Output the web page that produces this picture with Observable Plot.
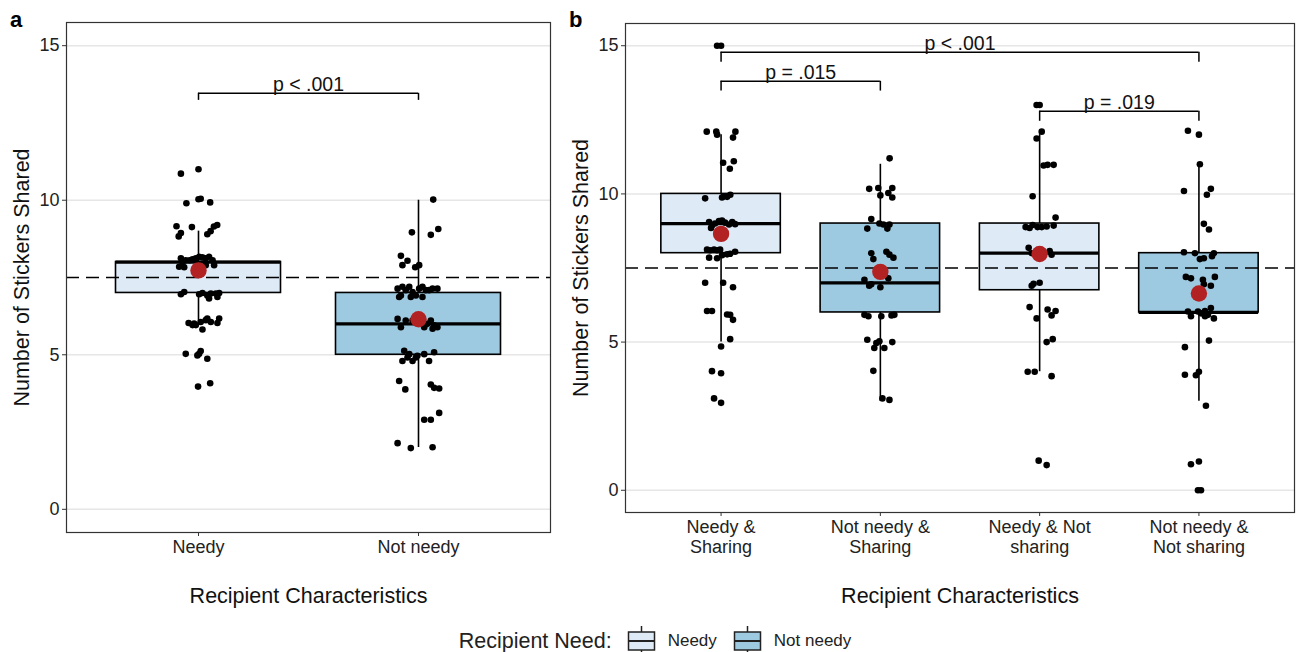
<!DOCTYPE html>
<html>
<head>
<meta charset="utf-8">
<script src="https://cdn.jsdelivr.net/npm/d3@7"></script>
<script src="https://cdn.jsdelivr.net/npm/@observablehq/plot@0.6"></script>
<style>
  html, body { margin: 0; padding: 0; background: #fff; }
  body { width: 1302px; height: 652px; position: relative; overflow: hidden;
         font-family: "Liberation Sans", Arial, Helvetica, sans-serif; color: #222; }
  .panel { position: absolute; top: 0; z-index: 1; }
  .tag { position: absolute; top: 7px; font-size: 22px; font-weight: bold; color: #000; z-index: 5; }
  #legend { position: absolute; left: 0; top: 626px; width: 1302px; height: 30px; z-index: 5;
            display: flex; justify-content: center; align-items: center; color: #222; padding-left: 8px; box-sizing: border-box; }
  #legend .ltitle { font-size: 21.5px; margin-right: 15px; }
  #legend .llabel { font-size: 17px; margin-left: 12px; }
  #legend .llabel.first { margin-right: 16px; }
</style>
</head>
<body>
<div id="panelA" class="panel" style="left:0px"></div>
<div id="panelB" class="panel" style="left:560px"></div>
<div class="tag" style="left:10px">a</div>
<div class="tag" style="left:569px">b</div>
<div id="legend"></div>
<script>
// ---------------- DATA ----------------
const needLevels = ["Needy", "Not needy"];
const needColors = ["#deebf7", "#9ecae1"];

// Panel a
const catsA = ["Needy", "Not needy"];
const labelsA = ["Needy", "Not needy"];
const needA = ["Needy", "Not needy"];
const q1A = [7, 5];
const medA = [8, 6];
const q3A = [8, 7];
const loA = [6, 2];
const hiA = [9, 10];
const meanA = [7.73, 6.15];

// jittered observations [x-jitter (category units), value]
const ptsA_needy = [
  [0.00, 11.0], [-0.08, 10.86],
  [-0.055, 9.9], [0.0, 10.03], [0.01, 10.05], [0.053, 9.93],
  [-0.10, 9.16], [-0.08, 8.94], [-0.09, 8.83], [-0.03, 9.13], [0.04, 8.9], [0.055, 9.0], [0.07, 9.15], [0.085, 9.2],
  [-0.08, 8.12], [-0.073, 7.9], [-0.058, 8.06], [-0.04, 8.06], [-0.027, 8.09], [-0.012, 8.12], [0.003, 8.17],
  [0.018, 8.15], [0.033, 8.12], [0.048, 8.17], [0.064, 8.06], [0.071, 7.9], [-0.088, 7.85], [-0.065, 7.83], [0.033, 7.9],
  [-0.08, 6.96], [-0.065, 7.03], [0.003, 6.96], [0.018, 7.0], [0.04, 6.92], [0.056, 6.98], [0.079, 6.98], [0.094, 7.0],
  [0.048, 6.82], [0.086, 6.87],
  [-0.045, 6.03], [-0.02, 6.01], [-0.012, 5.96], [0.01, 6.06], [0.018, 5.82], [0.04, 6.17], [0.056, 6.06], [0.086, 6.03],
  [0.094, 6.17], [0.033, 6.12], [-0.027, 5.96],
  [-0.058, 5.03], [-0.005, 4.98], [0.01, 5.12], [0.04, 4.87], [0.003, 5.03],
  [-0.002, 3.97], [0.053, 4.08]
];
const ptsA_notNeedy = [
  [0.067, 10.02],
  [-0.03, 8.96], [0.056, 8.88], [0.09, 9.07],
  [-0.08, 8.2], [-0.05, 8.04], [-0.073, 7.9], [-0.015, 7.83], [0.003, 7.9],
  [-0.095, 7.14], [-0.088, 6.87], [-0.073, 7.2], [-0.058, 7.09], [-0.042, 7.2], [-0.027, 7.03], [-0.012, 6.92],
  [0.003, 7.14], [0.018, 7.2], [0.033, 7.09], [0.048, 7.09], [0.064, 7.14], [0.086, 7.14], [-0.08, 6.92], [-0.035, 6.87], [0.018, 6.87],
  [-0.095, 6.16], [-0.08, 5.89], [-0.058, 6.11], [-0.027, 6.11], [0.026, 5.89], [0.04, 6.0], [0.056, 6.11], [0.071, 5.95],
  [0.086, 5.89], [0.064, 5.84],
  [-0.065, 5.13], [-0.073, 4.8], [-0.042, 5.02], [-0.027, 4.8], [-0.005, 4.97], [0.026, 5.02], [0.048, 4.8], [0.071, 5.08],
  [-0.05, 4.91], [-0.012, 4.91],
  [-0.088, 4.15], [-0.06, 3.88], [0.056, 4.04], [0.071, 3.93], [0.094, 3.91],
  [0.026, 2.9], [0.056, 2.9], [0.094, 3.12],
  [-0.095, 2.14], [-0.035, 1.98], [0.064, 2.01]
];

const bracketA_from = [1];
const bracketA_to = [2];
const bracketA_top = [13.46];
const bracketA_bottom = [13.23];
const bracketA_label = ["p < .001"];

// Panel b
const catsB = ["Needy & Sharing", "Not needy & Sharing", "Needy & Not sharing", "Not needy & Not sharing"];
const labelsB = ["Needy &\nSharing", "Not needy &\nSharing", "Needy & Not\nsharing", "Not needy &\nNot sharing"];
const needB = ["Needy", "Not needy", "Needy", "Not needy"];
const q1B = [8, 6, 6.75, 6];
const medB = [9, 7, 8, 6];
const q3B = [10, 9, 9, 8];
const loB = [5, 3, 4, 3];
const hiB = [12, 11, 12, 11];
const meanB = [8.65, 7.37, 7.97, 6.64];

const ptsB_needySharing = [
  [-0.025, 15.0], [0, 15.0],
  [-0.09, 12.1], [-0.03, 12.1], [-0.025, 12.0], [0.09, 12.1], [0.075, 11.9],
  [0.013, 11.05], [0.08, 11.1], [0.055, 10.85],
  [-0.1, 9.85], [0.017, 9.92], [0.038, 9.9], [0.058, 9.97], [0.006, 9.88],
  [-0.075, 9.05], [-0.057, 8.93], [-0.038, 9.0], [-0.013, 9.08], [0.006, 9.1], [0.025, 9.03], [0.05, 8.97],
  [0.07, 9.05], [0.088, 8.98], [-0.063, 8.85],
  [-0.088, 8.12], [-0.069, 8.1], [-0.044, 8.12], [-0.025, 8.1], [-0.006, 8.12], [-0.075, 7.85], [-0.025, 7.83],
  [0.006, 7.93], [0.038, 7.96], [0.057, 7.98], [0.088, 8.05],
  [-0.1, 7.0], [0.013, 7.0], [0.075, 6.85],
  [-0.088, 6.05], [-0.057, 6.05], [0.038, 5.93], [0.057, 5.92], [0.075, 5.75],
  [0.057, 5.1], [0, 4.85],
  [-0.057, 4.02], [0, 3.95],
  [-0.044, 3.1], [0, 2.95]
];
const ptsB_notNeedySharing = [
  [0.058, 11.2],
  [-0.07, 10.17], [-0.013, 10.2], [0.075, 10.2], [0.05, 10.03], [0.075, 9.88], [0, 9.95],
  [-0.057, 9.15], [-0.082, 8.83], [-0.006, 9.0], [0.019, 8.97], [0.044, 8.83], [0.057, 8.97],
  [-0.057, 8.0], [-0.044, 7.8], [0.038, 8.05], [0.057, 7.95], [0.082, 7.85],
  [-0.1, 7.1], [-0.07, 6.9], [-0.057, 6.95], [0, 6.85], [0.05, 7.15],
  [-0.1, 5.92], [-0.075, 5.87], [0.006, 5.87], [0.07, 5.9], [0.088, 5.92],
  [-0.082, 5.08], [-0.025, 4.97], [-0.006, 5.03], [0.025, 4.8], [0.075, 5.0], [-0.038, 4.8],
  [-0.044, 4.03],
  [0.013, 3.1], [0.057, 3.05]
];
const ptsB_needyNotSharing = [
  [-0.019, 13.0], [0, 13.0],
  [0.013, 12.1], [-0.019, 11.87],
  [0.025, 10.96], [0.05, 10.98], [0.088, 10.98],
  [-0.044, 9.92],
  [-0.088, 8.88], [-0.063, 8.85], [-0.044, 8.95], [-0.013, 8.88], [0.013, 8.88], [0.044, 8.9], [0.088, 8.93], [0.1, 9.2],
  [-0.069, 8.18], [-0.05, 8.0], [0.063, 8.07], [0.075, 7.95],
  [-0.05, 6.9], [0, 7.0], [-0.038, 6.97],
  [-0.063, 6.18], [-0.019, 5.8], [0.05, 6.1], [0.1, 6.05], [0.075, 5.9],
  [0.044, 5.0], [0.082, 5.1],
  [-0.075, 4.0], [-0.031, 4.0], [0.075, 3.85],
  [-0.006, 1.0], [0.044, 0.85]
];
const ptsB_notNeedyNotSharing = [
  [-0.069, 12.13], [0, 12.0],
  [0.006, 11.0],
  [-0.094, 10.1], [0.05, 9.97], [0.075, 10.17],
  [0.031, 8.99], [0.063, 8.8],
  [-0.094, 8.03], [-0.025, 8.0], [0.006, 7.8], [0.031, 7.83], [0.082, 7.9], [0.094, 8.0],
  [-0.082, 7.2], [-0.05, 7.15], [0.025, 7.1], [0.1, 7.2], [0.075, 6.9], [0.031, 6.95],
  [-0.069, 6.03], [-0.05, 5.87], [-0.006, 6.03], [0.013, 5.97], [0.038, 6.05], [0.057, 5.92], [0.075, 6.15],
  [0.094, 5.8], [0.038, 5.87],
  [0.063, 5.05], [-0.088, 4.83],
  [-0.088, 3.9], [-0.019, 3.88], [0, 4.0],
  [0.044, 2.85],
  [-0.05, 0.88], [0, 0.97],
  [-0.006, 0.0], [0.013, 0.0]
];

const bracketB_from = [1, 1, 3];
const bracketB_to = [4, 2, 4];
const bracketB_top = [14.78, 13.8, 12.79];
const bracketB_bottom = [14.44, 13.47, 12.45];
const bracketB_label = ["p < .001", "p = .015", "p = .019"];

const refLine = 7.5;
const yTicks = [0, 5, 10, 15];
const xTitle = "Recipient Characteristics";
const yTitle = "Number of Stickers Shared";
const legendTitle = "Recipient Need:";

// ---------------- DRAW ----------------
const FONT = '"Liberation Sans", Arial, Helvetica, sans-serif';

function panel(cfg) {
  const n = cfg.cats.length;
  const boxes = cfg.cats.map((c, i) => ({
    pos: i + 1, x1: i + 1 - 0.375, x2: i + 1 + 0.375,
    q1: cfg.q1[i], med: cfg.med[i], q3: cfg.q3[i], lo: cfg.lo[i], hi: cfg.hi[i],
    mean: cfg.mean[i], need: cfg.need[i]
  }));
  const pts = cfg.points.flatMap((arr, i) => arr.map(([j, v]) => ({ x: i + 1 + j, y: v })));
  const br = cfg.bFrom.map((f, i) => ({
    x1: f, x2: cfg.bTo[i], xm: (f + cfg.bTo[i]) / 2,
    top: cfg.bTop[i], bottom: cfg.bBottom[i], label: cfg.bLabel[i]
  }));
  const brEnds = br.flatMap(b => [{ x: b.x1, top: b.top, bottom: b.bottom }, { x: b.x2, top: b.top, bottom: b.bottom }]);

  return Plot.plot({
    width: cfg.width, height: cfg.height,
    marginLeft: cfg.mL, marginRight: cfg.mR, marginTop: cfg.mT, marginBottom: cfg.mB,
    x: { type: "linear", domain: [0.4, n + 0.6] },
    y: { type: "linear", domain: [-0.75, 15.75] },
    color: { domain: needLevels, range: needColors },
    style: { fontFamily: FONT, background: "white", color: "#222", overflow: "visible" },
    marks: [
      Plot.ruleY(yTicks, { stroke: "#e6e6e6", strokeWidth: 1.5 }),
      Plot.axisY({ ticks: yTicks, tickSize: 4, tickPadding: 3, fontSize: 18, label: null, stroke: "#333", fill: "#222" }),
      Plot.axisX({ ticks: d3.range(1, n + 1), tickFormat: d => cfg.labels[d - 1], tickSize: 4, tickPadding: 3,
                   fontSize: 18, lineHeight: 1.08, label: null, stroke: "#333", fill: "#222" }),
      // whiskers
      Plot.ruleX(boxes, { x: "pos", y1: "lo", y2: "q1", stroke: "black", strokeWidth: 1.6 }),
      Plot.ruleX(boxes, { x: "pos", y1: "q3", y2: "hi", stroke: "black", strokeWidth: 1.6 }),
      // boxes
      Plot.rect(boxes, { x1: "x1", x2: "x2", y1: "q1", y2: "q3", fill: "need", stroke: "black", strokeWidth: 1.6 }),
      Plot.ruleY(boxes, { y: "med", x1: "x1", x2: "x2", stroke: "black", strokeWidth: 3.2 }),
      // reference line
      Plot.ruleY([refLine], { stroke: "black", strokeWidth: 1.5, strokeDasharray: "13,7" }),
      // jittered points
      Plot.dot(pts, { x: "x", y: "y", r: 3.3, fill: "black", stroke: null }),
      // means
      Plot.dot(boxes, { x: "pos", y: "mean", r: 8.2, fill: "#b22222", stroke: null }),
      // brackets
      Plot.ruleY(br, { y: "top", x1: "x1", x2: "x2", stroke: "black", strokeWidth: 1.5 }),
      Plot.ruleX(brEnds, { x: "x", y1: "bottom", y2: "top", stroke: "black", strokeWidth: 1.5 }),
      Plot.text(br, { x: "xm", y: "top", text: "label", dy: -2, lineAnchor: "bottom", fontSize: 19.5, fill: "#111" }),
      // frame
      Plot.frame({ stroke: "#333", strokeWidth: 1.2 }),
      // titles
      Plot.text([xTitle], { text: d => d, frameAnchor: "bottom", dy: cfg.xTitleDy, lineAnchor: "middle", fontSize: 21.5, fill: "#111" }),
      Plot.text([yTitle], { text: d => d, frameAnchor: "left", dx: -44, rotate: -90, textAnchor: "middle", lineAnchor: "middle", fontSize: 21.5, fill: "#111" })
    ]
  });
}

document.getElementById("panelA").appendChild(panel({
  width: 560, height: 620, mL: 66, mR: 10, mT: 22, mB: 88,
  cats: catsA, labels: labelsA, need: needA,
  q1: q1A, med: medA, q3: q3A, lo: loA, hi: hiA, mean: meanA,
  points: [ptsA_needy, ptsA_notNeedy],
  bFrom: bracketA_from, bTo: bracketA_to, bTop: bracketA_top, bBottom: bracketA_bottom, bLabel: bracketA_label,
  xTitleDy: 64
}));

document.getElementById("panelB").appendChild(panel({
  width: 742, height: 620, mL: 65, mR: 8, mT: 23, mB: 108,
  cats: catsB, labels: labelsB, need: needB,
  q1: q1B, med: medB, q3: q3B, lo: loB, hi: hiB, mean: meanB,
  points: [ptsB_needySharing, ptsB_notNeedySharing, ptsB_needyNotSharing, ptsB_notNeedyNotSharing],
  bFrom: bracketB_from, bTo: bracketB_to, bTop: bracketB_top, bBottom: bracketB_bottom, bLabel: bracketB_label,
  xTitleDy: 84
}));

// legend
function keySvg(fill) {
  const ns = "http://www.w3.org/2000/svg";
  const svg = document.createElementNS(ns, "svg");
  svg.setAttribute("width", 29); svg.setAttribute("height", 30);
  svg.innerHTML =
    `<line x1="14.5" x2="14.5" y1="0" y2="6" stroke="#222" stroke-width="1.5"/>` +
    `<line x1="14.5" x2="14.5" y1="24" y2="30" stroke="#222" stroke-width="1.5"/>` +
    `<rect x="1.5" y="6" width="26" height="18" fill="${fill}" stroke="#222" stroke-width="1.5"/>` +
    `<line x1="1.5" x2="27.5" y1="15" y2="15" stroke="#222" stroke-width="2"/>`;
  return svg;
}
const legend = document.getElementById("legend");
const title = document.createElement("span"); title.className = "ltitle"; title.textContent = legendTitle; legend.appendChild(title);
needLevels.forEach((lv, i) => {
  legend.appendChild(keySvg(needColors[i]));
  const s = document.createElement("span"); s.className = "llabel" + (i === 0 ? " first" : ""); s.textContent = lv; legend.appendChild(s);
});
</script>
</body>
</html>
